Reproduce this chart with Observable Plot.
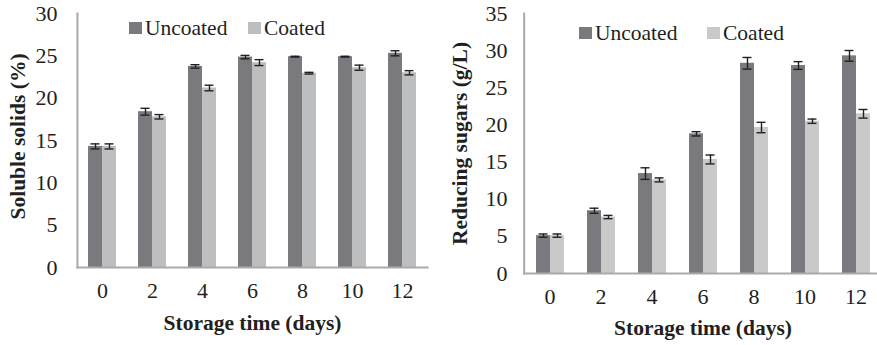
<!DOCTYPE html>
<html><head><meta charset="utf-8">
<script src="https://cdn.jsdelivr.net/npm/d3@7"></script>
<script src="https://cdn.jsdelivr.net/npm/@observablehq/plot@0.6"></script>
<style>
html,body{margin:0;padding:0;background:#fff;overflow:hidden;width:877px;height:345px}
#wrap{position:relative;width:877px;height:345px;overflow:hidden}
.panel{position:absolute;top:0}
.item{position:absolute;font-family:"Liberation Serif","Times New Roman",serif;font-size:21.5px;color:#231f20;display:flex;align-items:center;height:24px;white-space:nowrap}
.sw{display:inline-block;width:13px;height:12px;margin-right:3px}
</style></head><body><div id="wrap"></div>
<script>
const days = ["0","2","4","6","8","10","12"];
const series = ["Uncoated","Coated"];
const xTitle = "Storage time (days)";

const solidsTitle = "Soluble solids (%)";
const solidsTicks = [0,5,10,15,20,25,30];
const solidsUncoated   = [14.3,18.4,23.75,24.85,24.9,24.9,25.3];
const solidsUncoatedSd = [0.3,0.4,0.2,0.2,0.05,0.05,0.3];
const solidsCoated     = [14.3,17.8,21.2,24.2,22.95,23.6,23.0];
const solidsCoatedSd   = [0.3,0.26,0.33,0.35,0.1,0.3,0.25];

const sugarsTitle = "Reducing sugars (g/L)";
const sugarsTicks = [0,5,10,15,20,25,30,35];
const sugarsUncoated   = [5.1,8.45,13.45,18.8,28.3,28.0,29.3];
const sugarsUncoatedSd = [0.22,0.34,0.78,0.29,0.78,0.52,0.72];
const sugarsCoated     = [5.1,7.6,12.6,15.35,19.65,20.5,21.5];
const sugarsCoatedSd   = [0.22,0.22,0.27,0.6,0.7,0.29,0.58];

const ink = "#231f20", axisGray = "#a9a9a9";
const serifFont = "'Liberation Serif', 'Times New Roman', serif";
const padInner = 0.44, padOuter = 0.22;

function rowsOf(u, us, c, cs) {
  const rows = [];
  days.forEach((d, i) => {
    rows.push({day: d, series: "Uncoated", value: u[i], sd: us[i]});
    rows.push({day: d, series: "Coated", value: c[i], sd: cs[i]});
  });
  return rows;
}

function chart(o) {
  const rows = rowsOf(o.u, o.us, o.c, o.cs);
  const step = (o.width - o.marginLeft - o.marginRight) / (days.length - padInner + 2 * padOuter);
  const outer = padOuter * step; // gap between the axis line and the first/last band
  return Plot.plot({
    width: o.width, height: 345,
    marginTop: 13, marginBottom: o.marginBottom, marginLeft: o.marginLeft, marginRight: o.marginRight,
    style: {fontFamily: serifFont, fontSize: "22px", color: ink, background: "#fff", overflow: "visible"},
    fx: {domain: days, paddingInner: padInner, paddingOuter: padOuter, label: null},
    x: {domain: series, padding: 0, axis: null},
    y: {domain: [0, o.ticks[o.ticks.length - 1]], label: null},
    color: {domain: series, range: o.colors},
    marks: [
      Plot.barY(rows, {fx: "day", x: "series", y: "value", fill: "series"}),
      Plot.ruleX(rows, {fx: "day", x: "series", y1: d => d.value - d.sd, y2: d => d.value + d.sd, stroke: ink, strokeWidth: 1.4}),
      Plot.tickY(rows, {fx: "day", x: "series", y: d => d.value + d.sd, insetLeft: 2.5, insetRight: 2.5, stroke: ink, strokeWidth: 1.4}),
      Plot.tickY(rows, {fx: "day", x: "series", y: d => d.value - d.sd, insetLeft: 2.5, insetRight: 2.5, stroke: ink, strokeWidth: 1.4}),
      Plot.frame({anchor: "bottom", facet: "super", insetLeft: -outer, insetRight: -outer, stroke: axisGray, strokeWidth: 2}),
      Plot.frame({anchor: "left", facet: "super", insetLeft: -outer, stroke: axisGray, strokeWidth: 2}),
      Plot.axisY(o.ticks, {tickSize: 0, tickPadding: o.yPad, label: null, fontFamily: serifFont}),
      Plot.axisFx({anchor: "bottom", tickSize: 0, tickPadding: 15, label: null, fontFamily: serifFont}),
      Plot.text([xTitle], {facet: "super", text: d => d, frameAnchor: "bottom", dy: o.xTitleDy, fontWeight: "bold", fontSize: 21.5, fontFamily: serifFont, lineAnchor: "middle", fill: ink}),
      Plot.text([o.title], {facet: "super", text: d => d, frameAnchor: "left", rotate: -90, textAnchor: "middle", dx: o.yTitleDx, dy: o.yTitleDy, fontWeight: "bold", fontSize: 21.5, fontFamily: serifFont, lineAnchor: "middle", fill: ink})
    ]
  });
}

const wrap = document.getElementById("wrap");
function place(el, left) { el.classList.add("panel"); el.style.left = left + "px"; wrap.appendChild(el); }

place(chart({u: solidsUncoated, us: solidsUncoatedSd, c: solidsCoated, cs: solidsCoatedSd,
  ticks: solidsTicks, title: solidsTitle, width: 437, marginLeft: 76, marginRight: 9, marginBottom: 78,
  colors: ["#7a7a7e", "#bdbec0"], yPad: 31, xTitleDy: 56, yTitleDx: -70, yTitleDy: -4}), 0);
place(chart({u: sugarsUncoated, us: sugarsUncoatedSd, c: sugarsCoated, cs: sugarsCoatedSd,
  ticks: sugarsTicks, title: sugarsTitle, width: 446, marginLeft: 85, marginRight: 0, marginBottom: 72,
  colors: ["#7a7a7e", "#c9c9ca"], yPad: 28, xTitleDy: 55, yTitleDx: -75, yTitleDy: 0}), 437);

function legendItem(label, color, left, top) {
  const d = document.createElement("div");
  d.className = "item";
  d.style.left = left + "px"; d.style.top = top + "px";
  const s = document.createElement("span"); s.className = "sw"; s.style.background = color;
  d.appendChild(s); d.appendChild(document.createTextNode(label));
  wrap.appendChild(d);
}
legendItem(series[0], "#7a7a7e", 129, 16);
legendItem(series[1], "#bdbec0", 248, 16);
legendItem(series[0], "#7a7a7e", 579, 21);
legendItem(series[1], "#c9c9ca", 707, 21);
</script></body></html>
